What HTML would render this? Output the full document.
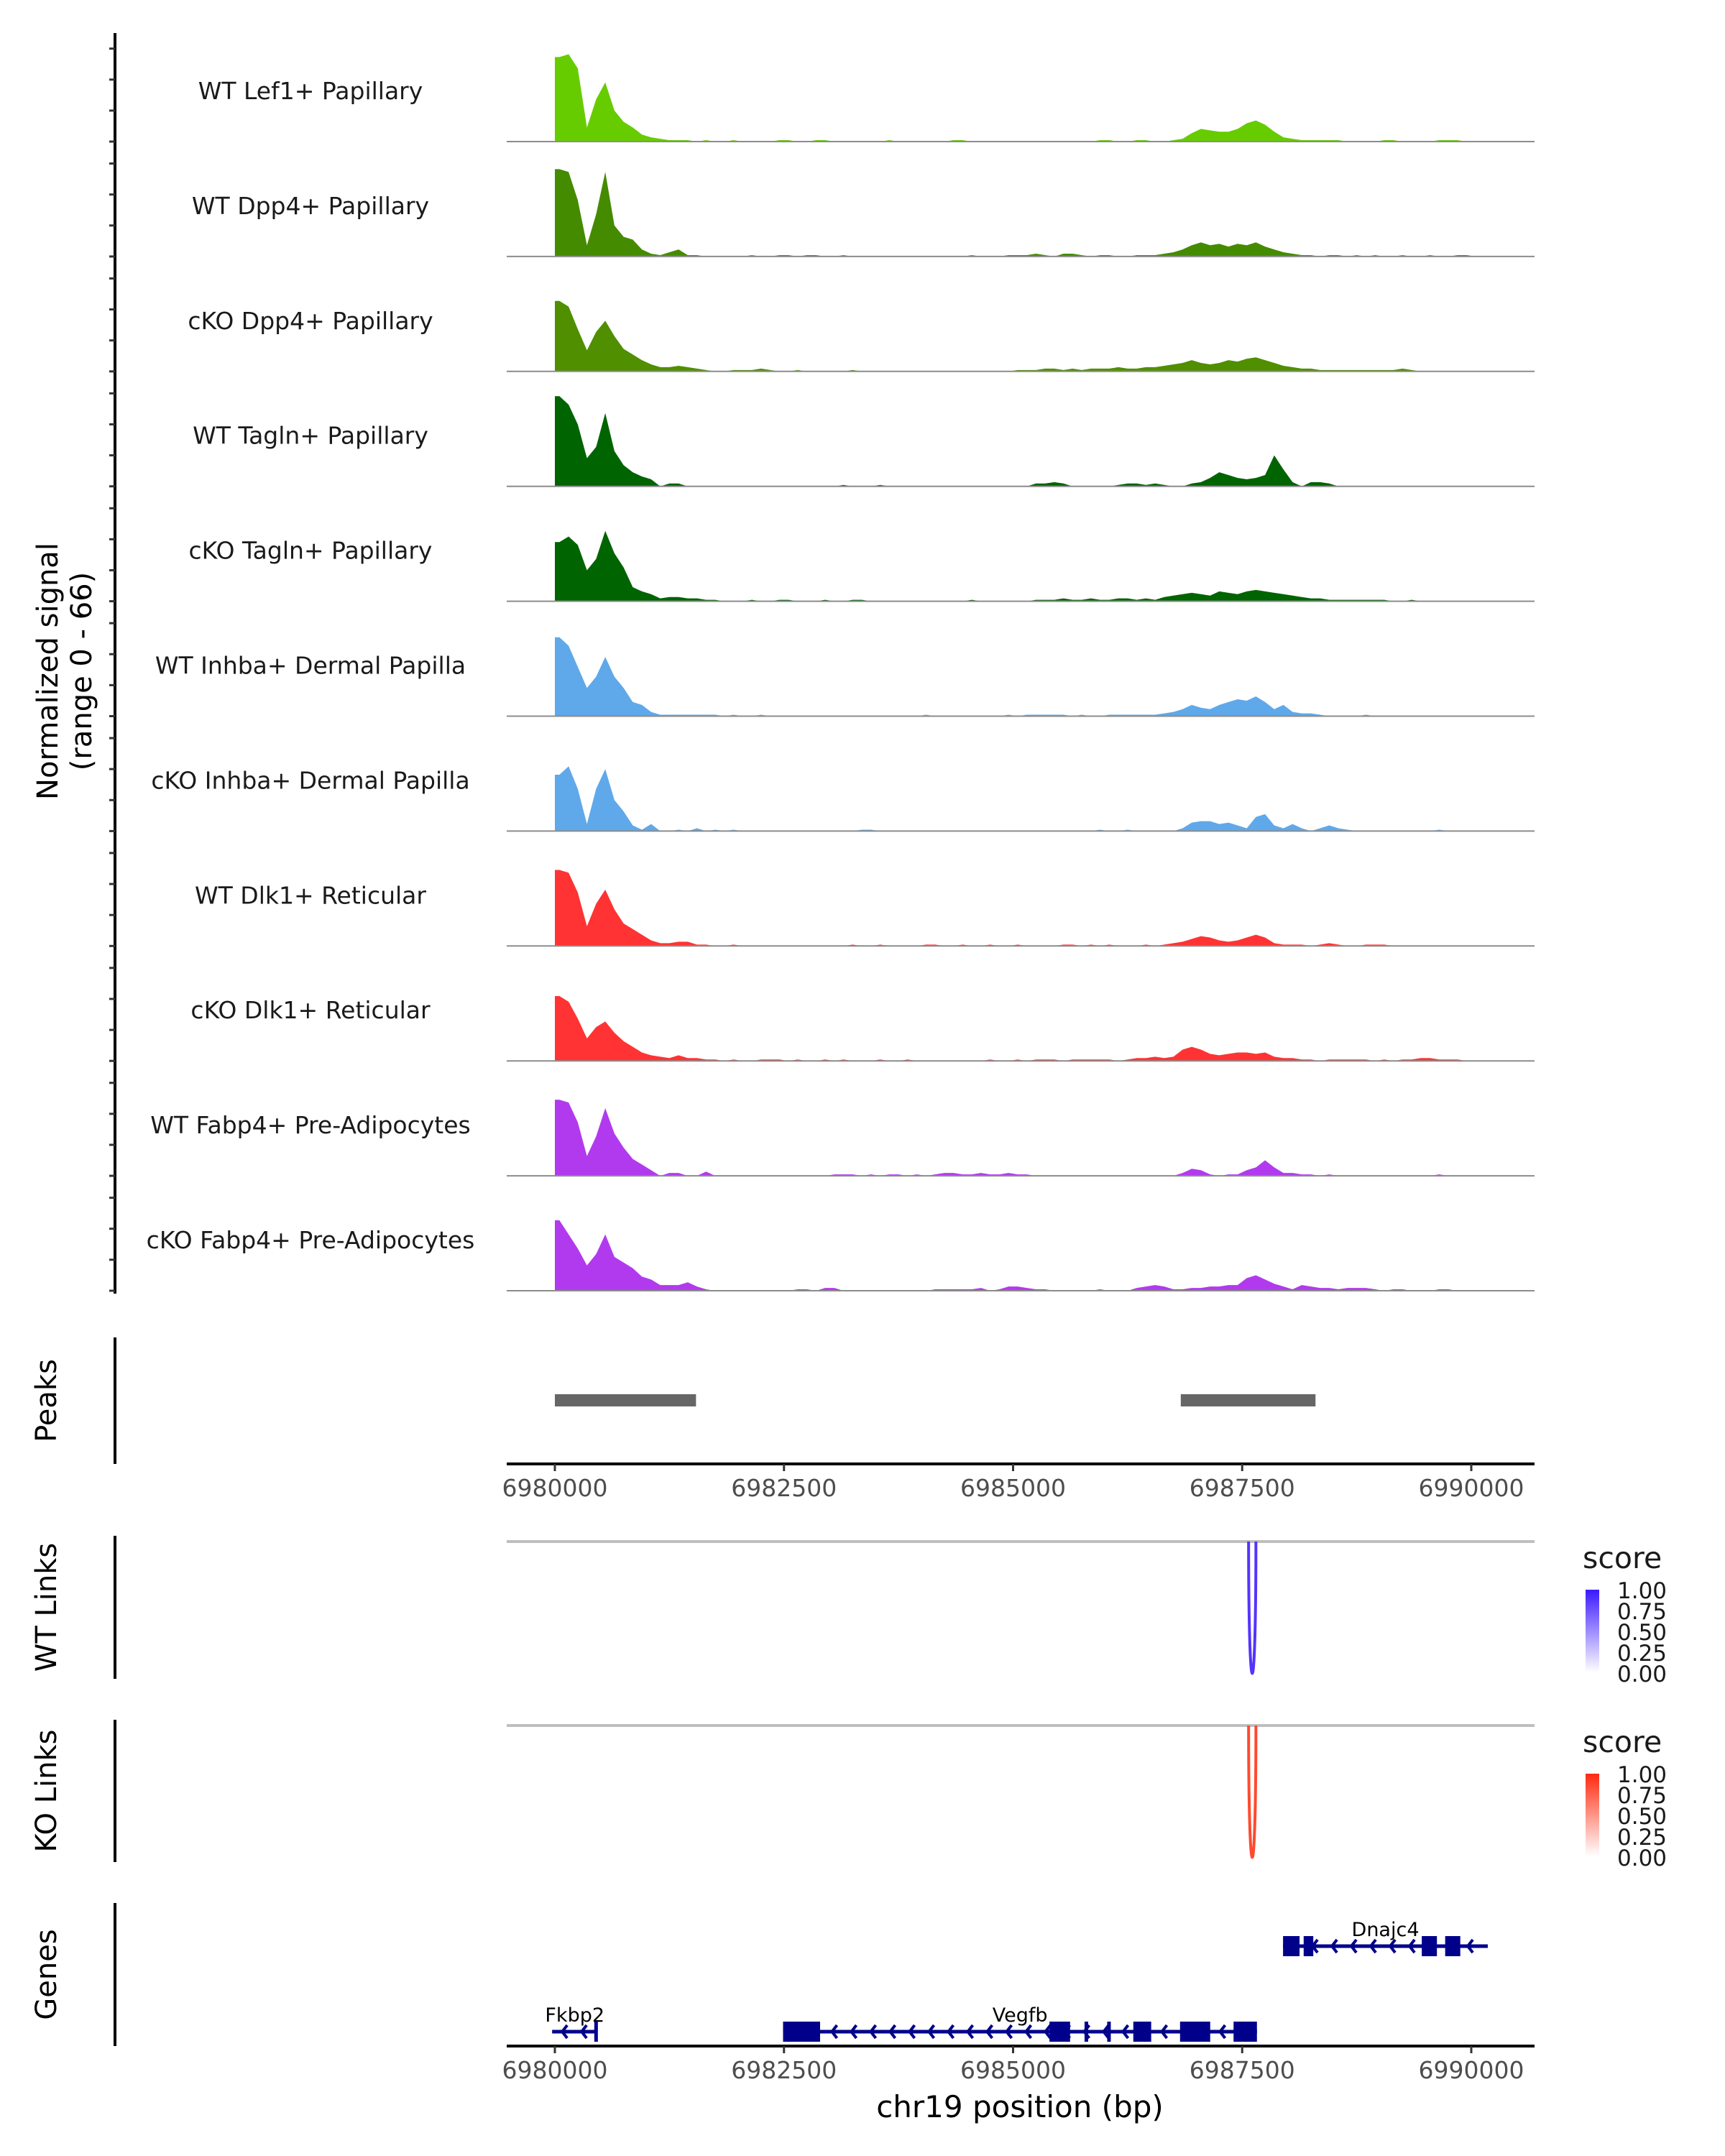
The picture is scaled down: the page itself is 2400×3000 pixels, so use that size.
<!DOCTYPE html>
<html><head><meta charset="utf-8">
<style>html,body{margin:0;padding:0;background:#fff}svg{display:block}text{font-family:"DejaVu Sans","Liberation Sans",sans-serif}</style>
</head><body>
<svg id="chart" width="2400" height="3000" viewBox="0 0 2400 3000" xmlns="http://www.w3.org/2000/svg">
<g id="tracks"></g>
<g id="lower"></g>
</svg>
<script>
// ---- data ----
const regionStart = 6980000; // first bin start
const binSize = 100;
const trackNames = ["WT Lef1+ Papillary","WT Dpp4+ Papillary","cKO Dpp4+ Papillary","WT Tagln+ Papillary","cKO Tagln+ Papillary","WT Inhba+ Dermal Papilla","cKO Inhba+ Dermal Papilla","WT Dlk1+ Reticular","cKO Dlk1+ Reticular","WT Fabp4+ Pre-Adipocytes","cKO Fabp4+ Pre-Adipocytes"];
const trackColors = ["#66cc00","#458b00","#4f8f00","#006400","#006400","#5fa9ea","#5fa9ea","#ff3333","#ff3333","#b23aee","#b23aee"];
const sigLef1 = [60,62,52,10,30,42,22,14,10,5,3, 2,1,1,1,0,1,0,0,1,0,0,0,0,1,1,0,0,1,1,0,0,0,0,0,0,1,0,0,0,0,0,0,1,1,0,0,0,0,0,0,0,0,0,0,0,0,0,0,1,1,0,0,1,1,0,0,1, 2,6,9,8,7,7,9,13,15,12,7,3,2,1,1,1,1, 1,0,0,0,0,1,1,0,0,0,0,1,1,1,0,0];
const sigDpp4 = [62,60,40,8,30,60,22,14,12,5,2, 1,3,5,1,1,0,0,0,0,0,1,0,0,1,1,0,1,1,0,0,1,0,0,0,0,0,0,0,0,0,0,0,0,0,1,0,0,0,1,1,1,2,1,0,2,2,1,0,1,1,0,0,1,1,1,2,3, 5,8,10,8,9,7,9,8,10,7,5,3,2,1,1,0,1, 1,0,1,0,1,0,0,1,0,0,1,0,0,1,1,0];
const sigCkoDpp4 = [50,46,30,15,28,36,25,16,12,8,5, 3,3,4,3,2,1,0,0,1,1,1,2,1,0,0,1,0,0,0,0,0,1,0,0,0,0,0,0,0,0,0,0,0,0,0,0,0,0,0,1,1,1,2,2,1,2,1,2,2,2,3,2,2,3,3,4,5, 6,8,6,5,6,8,7,9,10,8,6,4,3,2,2,1,1, 1,1,1,1,1,1,1,2,1,0,0,0,0,0,0,0];
const sigTagln = [64,58,44,20,28,52,25,15,10,7,5, 0,2,2,0,0,0,0,0,0,0, 0,0,0,0,0,0,0,0,0,0, 1,0,0,0,1,0,0,0,0,0, 0,0,0,0,0,0,0,0,0,0, 0,2,2,3,2,0,0,0,0,0, 1,2,2,1,2,1,0, 0,2,3,6,10,8,6,5,6,8,22,12,3,0,3,3,2, 0,0,0,0,0,0,0,0,0,0,0,0,0,0,0,0];
const sigCkoTagln = [42,46,40,22,30,50,34,24,10,7,5, 2,3,3,2,2,1,1,0,0,0,1,0,0,1,1,0,0,0,1,0,0,1,1,0,0,0,0,0,0,0,0,0,0,0,1,0,0,0,0,0,0,1,1,1,2,1,1,2,1,1,2,2,1,2,1,3,4, 5,6,5,4,7,6,5,7,8,7,6,5,4,3,2,2,1, 1,1,1,1,1,1,0,0,1,0,0,0,0,0,0,0];
const sigInhba = [56,50,35,20,28,42,28,20,10,8,3, 1,1,1,1,1,1,1,0,1,0,0,1,0,0,0,0,0,0,0,0,0,0,0,0,0,0,0,0,0,1,0,0,0,0,0,0,0,0,1,0,1,1,1,1,1,0,1,0,0,1,1,1,1,1,1,2,3, 5,8,6,5,8,10,12,11,14,10,5,8,3,2,2,1,0, 0,0,0,1,0,0,0,0,0,0,0,0,0,0,0,0];
const sigCkoInhba = [40,46,30,5,30,44,22,14,4,1,5, 0,0,1,0,2,0,1,0,1,0,0,0,0,0,0,0,0,0,0,0,0,0,1,1,0,0,0,0,0,0,0,0,0,0,0,0,0,0,0,0,0,0,0,0,0,0,0,0,1,0,0,1,0,0,0,0,0, 2,6,7,7,5,6,4,2,10,12,4,2,5,2,0,2,4, 2,1,0,0,0,0,0,0,0,0,0,1,0,0,0,0];
const sigDlk1 = [54,52,38,14,30,40,26,16,12,8,4, 2,2,3,3,1,1,0,0,1,0,0,0,0,0,0,0,0,0,0,0,0,1,0,0,1,0,0,0,0,1,1,0,0,1,0,0,1,0,0,1,0,0,0,0,1,1,0,1,0,1,0,0,0,1,0,1,2, 3,5,7,6,4,3,4,6,8,6,2,1,1,1,0,1,2, 1,0,0,1,1,1,0,0,0,0,0,0,0,0,0,0];
const sigCkoDlk1 = [46,42,30,16,24,28,20,14,10,6,4, 3,2,4,2,2,1,1,0,1,0,0,1,1,1,0,1,0,0,1,0,1,0,0,0,1,0,0,1,0,0,0,0,0,0,0,0,1,0,0,1,0,1,1,1,0,1,1,1,1,1,0,1,2,2,3,2,3, 8,10,8,5,4,5,6,6,5,6,3,2,2,1,1,0,1, 1,1,1,1,0,1,0,1,1,2,2,1,1,1,0,0];
const sigFabp4 = [54,52,38,14,28,48,30,20,12,8,4, 0,2,2,0,0,3,0,0,0,0,0,0,0,0,0,0,0,0,0,1,1,1,0,1,0,1,1,0,1,0,1,2,2,1,1,2,1,1,2,1,1,0,0,0,0,0,0,0,0,0,0,0,0,0,0,0,0, 2,5,4,1,0,1,1,4,6,11,6,2,2,1,1,0,1, 0,0,0,0,0,0,0,0,0,0,0,1,0,0,0,0];
const sigCkoFabp4 = [50,40,30,18,26,40,24,20,16,10,8, 4,4,4,6,3,1,0,0,0,0,0,0,0,0,0,1,1,0,2,2,0,0,0,0,0,0,0,0,0,0,1,1,1,1,1,2,0,1,3,3,2,1,1,0,0,0,0,0,1,0,0,0,2,3,4,3,1, 1,2,2,3,3,4,4,9,11,8,5,3,1,4,3,2,2, 1,2,2,2,1,0,1,1,0,0,0,1,1,0,0,0];
const signals = [sigLef1,sigDpp4,sigCkoDpp4,sigTagln,sigCkoTagln,sigInhba,sigCkoInhba,sigDlk1,sigCkoDlk1,sigFabp4,sigCkoFabp4];
const axisTicks = [6980000,6982500,6985000,6987500,6990000];
const peakStarts = [6980000,6986830];
const peakEnds = [6981540,6988300];
const linkStart = [6987570];
const linkEnd = [6987650];
const linkScore = [1.0];
const legendTicks = ["1.00","0.75","0.50","0.25","0.00"];
const geneNames = ["Fkbp2","Vegfb","Dnajc4"];
const geneStart = [6979970,6982490,6987946];
const geneEnd = [6980465,6987661,6990180];
const geneRow = [1,1,0];
const exonGene = [0,1,1,1,1,1,1,1,2,2,2,2];
const exonStart = [6980430,6982490,6985397,6985780,6986027,6986312,6986822,6987406,6987946,6988171,6989460,6989715];
const exonEnd = [6980465,6982894,6985622,6985800,6986060,6986507,6987151,6987661,6988126,6988276,6989625,6989880];

// ---- scales ----
const NS = "http://www.w3.org/2000/svg";
const X0 = 772, PXPB = 1275/10000;
const PX1 = 705, PX2 = 2135;
const xs = bp => X0 + (bp - regionStart) * PXPB;
const base0 = 197, trackStep = 159.9, unitPx = 1.96;
const ys = (k, v) => base0 + k * trackStep - v * unitPx;
function mk(tag, attrs, parent, txt){const e=document.createElementNS(NS,tag);for(const k in attrs)e.setAttribute(k,attrs[k]);if(txt!==undefined)e.textContent=txt;parent.appendChild(e);return e;}

const tg = document.getElementById('tracks');
const lg = document.getElementById('lower');
let ax = mk('line',{x1:160,y1:46,x2:160,y2:1800,stroke:'#000','stroke-width':4},tg);


let yt = mk('text',{x:0,y:0,'font-size':40,'text-anchor':'middle',transform:'translate(80,934) rotate(-90)'},tg,'Normalized signal');


let yt2 = mk('text',{x:0,y:0,'font-size':40,'text-anchor':'middle',transform:'translate(127,934) rotate(-90)'},tg,'(range 0 - 66)');



signals.forEach((arr,k)=>{
  const b = ys(k,0);
  [0,22,44,66].forEach(v=>{
    const t = mk('line',{x1:152,x2:160,y1:ys(k,v),y2:ys(k,v),stroke:'#333','stroke-width':3},tg);
    
    
  });
  let d = `M${xs(regionStart)},${b} L${xs(regionStart)},${ys(k,arr[0])}`;
  arr.forEach((v,i)=>{
    d += ` L${xs(regionStart+(i+0.5)*binSize)},${ys(k,v)}`;
  });
  d += ` L${xs(regionStart+arr.length*binSize)},${b} Z`;
  const p = mk('path',{d,fill:trackColors[k]},tg);
  
  
  const bl = mk('line',{x1:PX1,x2:PX2,y1:b,y2:b,stroke:'#8c8c8c','stroke-width':2},tg);
  
  
  const lab = mk('text',{x:432,y:b-59,'font-size':33,'text-anchor':'middle',fill:'#1a1a1a'},tg,trackNames[k]);
  
  
});

function sideLabel(txt,y1,y2,name){
  const l = mk('line',{x1:160,x2:160,y1,y2,stroke:'#000','stroke-width':4},lg);
  
  
  const t = mk('text',{x:0,y:0,'font-size':40,'text-anchor':'middle',transform:`translate(78,${(y1+y2)/2}) rotate(-90)`},lg,txt);
  
  
}
function xAxis(y,name){
  const l = mk('line',{x1:PX1,x2:PX2,y1:y,y2:y,stroke:'#000','stroke-width':4},lg);
  
  
  axisTicks.forEach(t=>{
    const tk = mk('line',{x1:xs(t),x2:xs(t),y1:y,y2:y+10,stroke:'#333','stroke-width':3},lg);
    
    
    const tl = mk('text',{x:xs(t),y:y+45,'font-size':33,'text-anchor':'middle',fill:'#4d4d4d'},lg,String(t));
    
    
  });
}
// peaks
sideLabel('Peaks',1861,2037,'peaks');
peakStarts.forEach((s,i)=>{
  const r = mk('rect',{x:xs(s),y:1940,width:xs(peakEnds[i])-xs(s),height:17,fill:'#666'},lg);
  
  
});
xAxis(2037,'peaks-x-axis');

function links(y0,yb,l1,l2,color,label,name,legY,gradId,c1){
  sideLabel(label,l1,l2,name);
  const g = mk('line',{x1:PX1,x2:PX2,y1:y0,y2:y0,stroke:'#bfbfbf','stroke-width':4},lg);
  
  
  linkStart.forEach((s,i)=>{
    const a=xs(s), b=xs(linkEnd[i]), depth=(yb-y0)*linkScore[i]*1.33;
    const p = mk('path',{d:`M${a},${y0} C${a},${y0+depth} ${b},${y0+depth} ${b},${y0}`,fill:'none',stroke:color,'stroke-width':4},lg);
    
    
  });
  const defs = mk('defs',{},lg);
  const gr = mk('linearGradient',{id:gradId,x1:0,y1:1,x2:0,y2:0},defs);
  mk('stop',{offset:0,'stop-color':'#ffffff'},gr);
  mk('stop',{offset:1,'stop-color':c1},gr);
  const st = mk('text',{x:2202,y:legY+14,'font-size':41,fill:'#1a1a1a'},lg,'score');
  
  
  const bar = mk('rect',{x:2206,y:legY+44,width:19,height:115,fill:`url(#${gradId})`},lg);
  
  
  legendTicks.forEach((t,i)=>{
    const lt = mk('text',{x:2250,y:legY+56+i*29,'font-size':31,fill:'#1a1a1a'},lg,t);
    
    
  });
}
links(2145,2329,2137,2336,'#5533ff','WT Links','wt-links',2168,'gw','#3a1aff');
links(2401,2585,2393,2591,'#ff4a2e','KO Links','ko-links',2424,'gk','#ff2a10');

// genes
sideLabel('Genes',2648,2847,'genes');
const rowY = [2708,2827];
geneNames.forEach((n,i)=>{
  const y = rowY[geneRow[i]], a=xs(geneStart[i]), b=xs(geneEnd[i]);
  const l = mk('line',{x1:a,x2:b,y1:y,y2:y,stroke:'#00008b','stroke-width':5},lg);
  
  
  for(let x=a+14;x<b-6;x+=27){
    const c = mk('path',{d:`M${x+7},${y-9} L${x},${y} L${x+7},${y+9}`,fill:'none',stroke:'#00008b','stroke-width':4},lg);
    
    
  }
  const t = mk('text',{x:(a+b)/2,y:y-14,'font-size':27,'text-anchor':'middle',fill:'#000'},lg,n);
  
  
});
exonGene.forEach((g,i)=>{
  const y = rowY[geneRow[g]];
  const r = mk('rect',{x:xs(exonStart[i]),y:y-14,width:Math.max(5,xs(exonEnd[i])-xs(exonStart[i])),height:28,fill:'#00008b'},lg);
  
  
});
xAxis(2847,'genes-x-axis');
const xt = mk('text',{x:1419,y:2946,'font-size':42,'text-anchor':'middle',fill:'#000'},lg,'chr19 position (bp)');


</script>
</body></html>
